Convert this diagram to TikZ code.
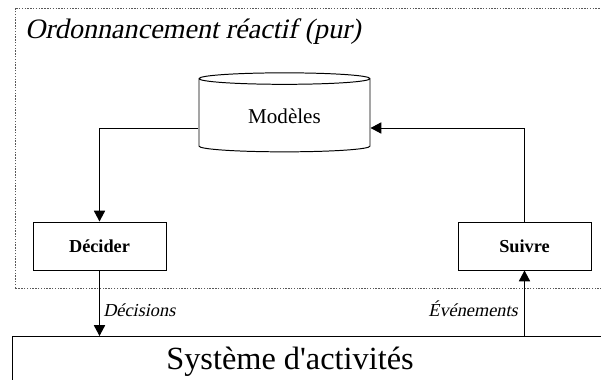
\documentclass[tikz,border=0pt]{standalone}
\usepackage{fontspec}
\setmainfont{Liberation Serif}[ItalicFont={Liberation Serif},
  ItalicFeatures={FakeSlant=0.21}, BoldFont={Liberation Serif Bold}]
\newfontfamily\sysfont{Liberation Serif}[Ligatures=TeXOff]
\usetikzlibrary{arrows.meta,shapes.geometric}
\tikzset{
  bloc/.style={draw, line width=0.7pt, minimum width=3.325cm, minimum height=1.2cm,
    font=\fontsize{13}{15}\selectfont\bfseries},
  fleche/.style={line width=0.7pt, -{Triangle[length=0.27cm,width=0.28cm]}},
  cadre/.style={gray!70!black, line width=0.6pt, dash pattern=on 1pt off 1pt},
  etiq/.style={font=\fontsize{13}{15}\selectfont\itshape, inner sep=0pt},
}
\begin{document}
\begin{tikzpicture}
    \useasboundingbox (0,0) rectangle (15.025,9.5);
    % Cadre
    \draw[cadre] (0.375,2.3) rectangle (15.4,9.3);
    \node[anchor=base west, inner sep=0pt, font=\fontsize{20}{24}\selectfont\itshape]
    (titre) at (0.62,8.53) {Ordonnancement réactif (pur)};
    % Blocs
    \node[draw, cylinder, shape border rotate=90, aspect=0.14, line width=0.7pt,
    minimum width=4.275cm, minimum height=1.975cm,
    font=\fontsize{15}{18}\selectfont] (modeles) at (7.1125,6.59)
    {\raisebox{-0.08cm}{Modèles}};
    \node[bloc] (decider) at (2.4875,3.35) {Décider};
    \node[bloc] (suivre) at (13.1125,3.35) {Suivre};
    \node[draw, line width=0.7pt, anchor=north west, minimum width=15.5cm,
    minimum height=1.6cm] (systeme) at (0.3,1.1) {};
    \node[anchor=base, font=\fontsize{23}{27}\selectfont\sysfont]
    (systxt) at (7.25,0.25) {Système d'activités};
    % Fleches
    \draw[fleche] ([yshift=-0.29cm]modeles.west) -| (decider.north);
    \draw[fleche] (suivre.north) |- ([yshift=-0.29cm]modeles.east);
    \draw[fleche] (decider.south) -- (decider.south |- systeme.north);
    \draw[fleche] (suivre.south |- systeme.north) -- (suivre.south);
    % Labels
    \node[etiq, anchor=west] (dec) at (2.575,1.75) {Décisions};
    \node[etiq, anchor=east] (evt) at (12.95,1.775) {Événements};
\end{tikzpicture}
\end{document}
